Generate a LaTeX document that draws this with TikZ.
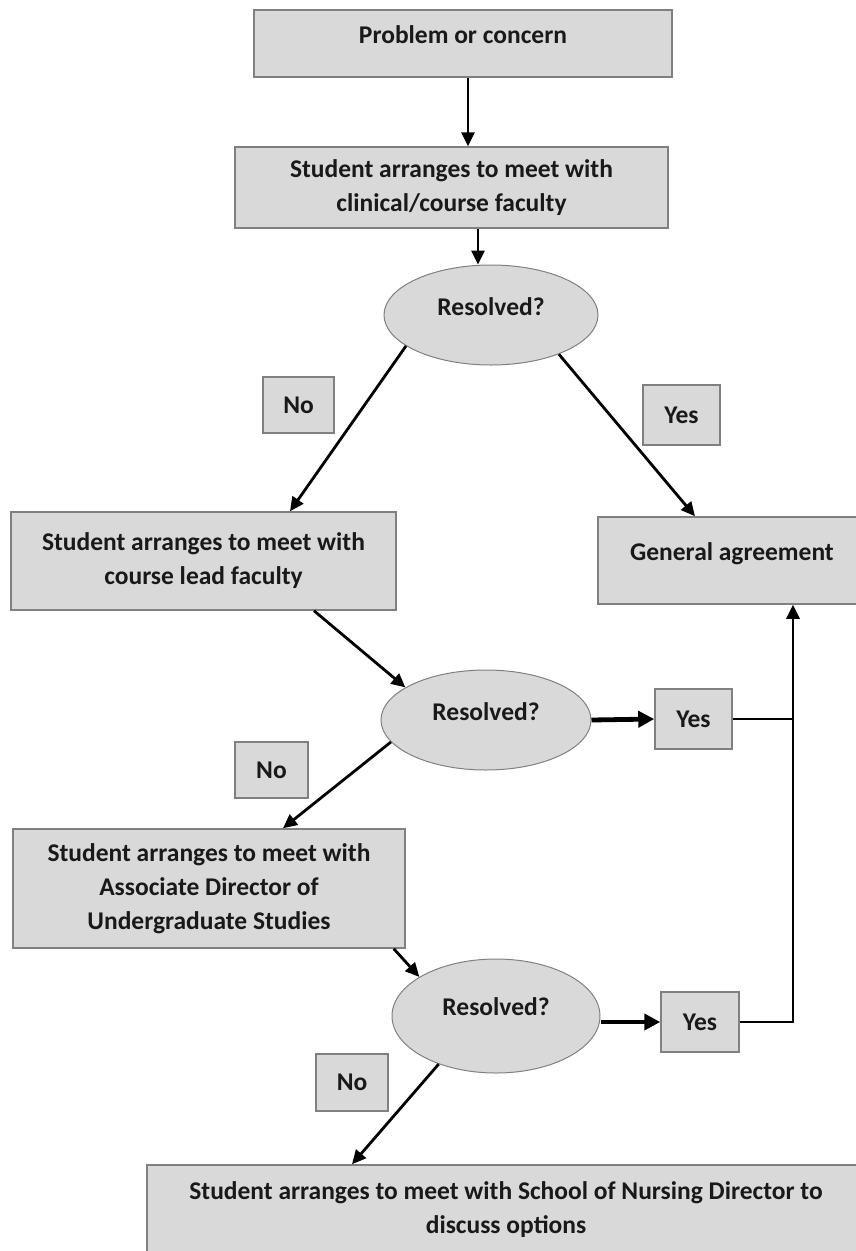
\documentclass[tikz,border=0pt]{standalone}
\usepackage{fontspec}
\setmainfont{Carlito}
\usetikzlibrary{arrows.meta,shapes.geometric}
\definecolor{boxfill}{RGB}{217,217,217}
\definecolor{boxline}{RGB}{128,128,128}

\begin{document}
\begin{tikzpicture}[x=1pt,y=-1pt,
    every node/.style={font=\fontsize{25.5}{34}\selectfont\bfseries,text=black!90},
    box/.style={draw=boxline,fill=boxfill,line width=1.5pt,align=center,inner sep=0pt},
    decision/.style={ellipse,draw=boxline,fill=boxfill,line width=1pt,inner sep=0pt},
    answer/.style={box},
    arr/.style={line width=2.8pt,-{Triangle[length=14pt,width=13pt]}},
    fatarr/.style={line width=4.8pt,-{Triangle[length=16pt,width=16pt]}}]
  \path[use as bounding box,clip] (0,0) rectangle (856,1251);

  % boxes and decisions, top to bottom
  \node[box,minimum width=418pt,minimum height=67pt,text depth=18pt] (prob) at (463,43.5) {Problem or concern};
  \node[box,minimum width=433pt,minimum height=81pt] (clin) at (451.5,187.5) {Student arranges to meet with\\clinical/course faculty};
  \node[decision,minimum width=214pt,minimum height=100pt,text depth=16pt] (res1) at (491,315) {Resolved?};
  \node[answer,minimum width=71pt,minimum height=56pt] (no1) at (298.5,405) {No};
  \node[answer,minimum width=77pt,minimum height=60pt] (yes1) at (681.5,415) {Yes};
  \node[box,minimum width=385pt,minimum height=98pt] (lead) at (203.5,561) {Student arranges to meet with\\course lead faculty};
  \node[box,minimum width=268pt,minimum height=87pt,text depth=18pt] (agree) at (732,560.5) {General agreement};
  \node[decision,minimum width=210pt,minimum height=100pt,text depth=16pt] (res2) at (486,720) {Resolved?};
  \node[answer,minimum width=77pt,minimum height=60pt] (yes2) at (693.5,719) {Yes};
  \node[answer,minimum width=73pt,minimum height=56pt] (no2) at (271.5,770) {No};
  \node[box,minimum width=392pt,minimum height=119pt] (assoc) at (209,888.5) {Student arranges to meet with\\Associate Director of\\Undergraduate Studies};
  \node[decision,minimum width=208pt,minimum height=114pt,text depth=18pt] (res3) at (496,1016) {Resolved?};
  \node[answer,minimum width=78pt,minimum height=60pt] (yes3) at (700,1022) {Yes};
  \node[answer,minimum width=72pt,minimum height=57pt] (no3) at (352,1082.5) {No};
  \node[box,minimum width=718pt,minimum height=90pt] (nursing) at (506,1210) {Student arranges to meet with School of Nursing Director to\\discuss options};

  % connectors
  \draw[arr] ([xshift=5pt]prob.south) -- ([xshift=5pt]prob.south |- clin.north);
  \draw[arr] ([xshift=26.5pt]clin.south) -- ([xshift=26.5pt]clin.south |- res1.north);
  \draw[arr] (res1.200) -- ([xshift=86.5pt]lead.north);
  \draw[arr] (res1.330) -- ([xshift=-37pt]agree.north);
  \draw[arr] ([xshift=110.5pt]lead.south) -- (res2.158);
  \draw[fatarr] (res2.east) -- (yes2.west);
  \draw[arr] (yes2.east) -| ([xshift=61pt]agree.south);
  \draw[arr] (res2.193) -- ([xshift=74pt]assoc.north);
  \draw[arr] ([xshift=-12pt]assoc.south east) -- (res3.153);
  \draw[fatarr] (res3.east |- yes3.west) -- (yes3.west);
  \draw[line width=2.8pt] (yes3.east) -| ([xshift=61pt]agree.south |- yes2.east);
  \draw[arr] (res3.220) -- ([xshift=-154pt]nursing.north);
\end{tikzpicture}
\end{document}
